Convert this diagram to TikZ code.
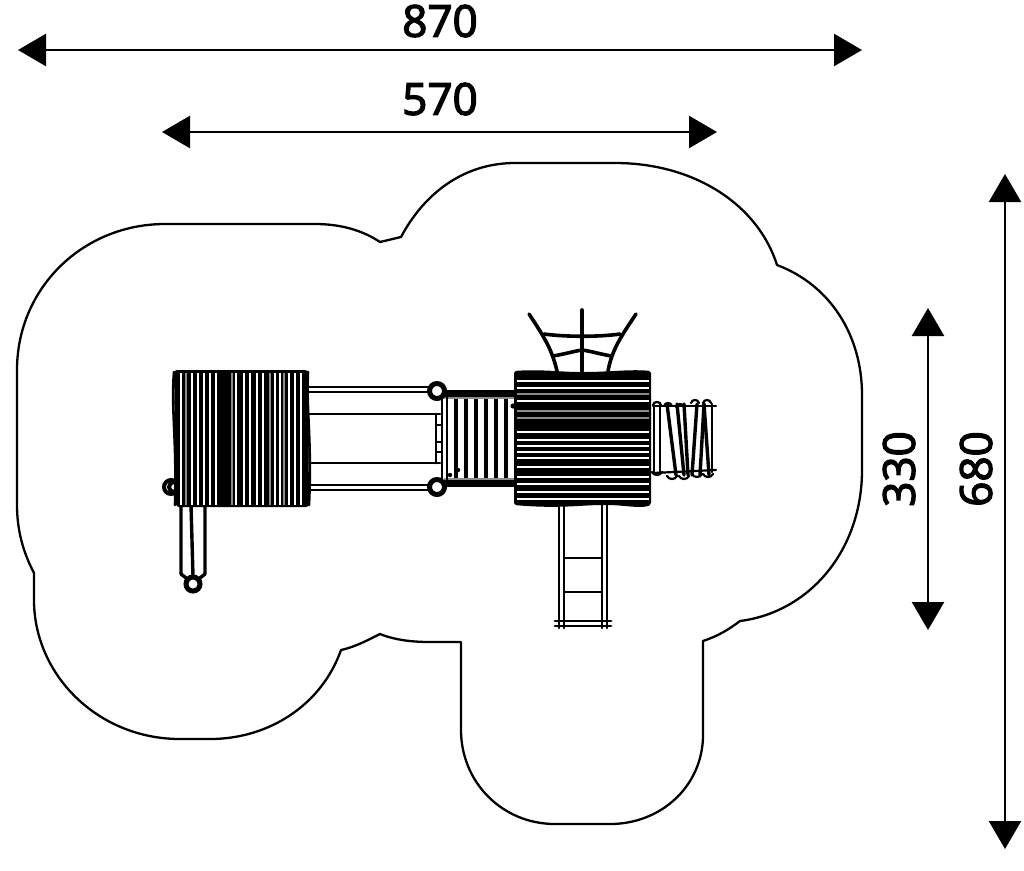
\documentclass[tikz,border=0pt]{standalone}
\usepackage{fontspec}
\setmainfont{Open Sans}
\newfontfamily\dimfont[FakeBold=3]{Open Sans}
\usetikzlibrary{arrows.meta}
\tikzset{
  dim/.style={line width=2.5pt,{Triangle[length=28pt,width=32pt]}-{Triangle[length=28pt,width=32pt]}},
  lab/.style={font=\dimfont\fontsize{44}{44}\selectfont,inner sep=0pt},
  edge/.style={line width=2.3pt,line join=round,line cap=round},
  heavy/.style={line width=3.4pt,line cap=round,line join=round},
  medium/.style={line width=2.8pt,line cap=round},
  gap/.style={white,line width=2.2pt},
  grey gap/.style={black!45,line width=1.4pt},
  ring/.style={circle,draw,fill=white,line width=5pt,minimum size=15pt,inner sep=0pt},
}
\begin{document}
\begin{tikzpicture}[x=1pt,y=-1pt]
\useasboundingbox (0,0) rectangle (1024,870);
% surface outline
\draw[edge] (401,237) .. controls (425,192) and (465,163) .. (515,163)
  -- (615,163) .. controls (695,163) and (758,205) .. (777,265)
  .. controls (830,285) and (862,335) .. (862,395)
  -- (862,470) .. controls (862,550) and (810,612) .. (740,621)
  .. controls (728,630) and (718,636) .. (703,641)
  -- (703,735) .. controls (703,785) and (662,824) .. (610,824)
  -- (555,824) .. controls (502,824) and (461,782) .. (461,730)
  -- (461,642) -- (430,642) .. controls (412,642) and (395,640) .. (380,634)
  .. controls (368,640) and (355,647) .. (341,650)
  .. controls (322,704) and (270,739) .. (210,739)
  -- (180,739) .. controls (98,739) and (34,675) .. (34,600)
  -- (34,573) .. controls (23,552) and (17,530) .. (17,505)
  -- (17,370) .. controls (17,288) and (83,224) .. (165,224)
  -- (315,224) .. controls (340,224) and (362,230) .. (380,242) -- cycle;
% dimensions
\coordinate (a1) at (18,50); \coordinate (a2) at (862,50);
\coordinate (b1) at (162,132); \coordinate (b2) at (717,132);
\coordinate (c1) at (1005,174); \coordinate (c2) at (1005,849);
\coordinate (d1) at (928,308); \coordinate (d2) at (928,630);
\draw[dim] (a1) -- (a2);
\draw[dim] (b1) -- (b2);
\draw[dim] (c1) -- (c2);
\draw[dim] (d1) -- (d2);
\node[lab] (l870) at (440,21) {870};
\node[lab] (l570) at (440,99) {570};
\node[lab,rotate=90] (l680) at (976,469) {680};
\node[lab,rotate=90] (l330) at (899,469) {330};
% left pole under the deck
\draw[heavy] (181,505) -- (181,574) (191,505) -- (193,576) (205,505) -- (205,574);
\draw[heavy] (181,574) -- (186,578) (205,574) -- (200,578);
\node[ring,minimum size=14pt] (p1) at (193,584) {};
\node[ring,minimum size=14pt,line width=4pt] (p2) at (171,487) {};
\draw[line width=4pt] (174,482) arc (90:270:5pt);
% bridge rails
\draw[medium] (309,387) -- (430,387) (309,392) -- (430,392);
\draw[medium] (309,485) -- (430,485) (309,490) -- (430,490);
\draw[medium] (309,414) -- (440,414) (309,463) -- (440,463);
\draw[medium] (436,414) -- (436,463) (442,414) -- (442,463);
\draw[medium,line width=1.8pt] (436,425) -- (442,425) (436,442) -- (442,442) (436,452) -- (442,452);
% left deck
\fill[rounded corners=3pt] (174,370) -- (308,370) -- (309,507) -- (176,507) -- cycle;
\foreach \x in {181,192,198,204,210,216,236,244,250,257,263,275,280,289,295,301}
  \draw[gap] (\x,373) -- (\x,505);
\foreach \x in {186,232,270,284}
  \draw[grey gap] (\x,373) -- (\x,505);
\draw[heavy,line width=2.6pt] (174,372) .. controls (171,410) and (177,440) .. (175,505);
\draw[heavy,line width=2.6pt] (308,372) .. controls (306,410) and (312,440) .. (309,505);
% middle platform
\fill (444,390) rectangle (514,397);
\fill (444,480) rectangle (514,487);
\fill[black!45] (444,397) rectangle (514,399);
\fill[black!45] (444,478) rectangle (514,480);
\draw[medium] (442,395) -- (442,484) (447,395) -- (447,484);
\foreach \x in {456,466,476,486,496,506}
  \draw[line width=3.2pt] (\x,399) -- (\x,478);
\fill (450,475) circle (2.2pt) (458,470) circle (2.2pt) (513,406) circle (2.6pt);
\node[ring] (r1) at (437,391) {};
\node[ring] (r2) at (437,487) {};
% right deck
\fill[rounded corners=2pt] (514,371) .. controls (540,369) and (560,372) .. (582,372)
  .. controls (610,372) and (630,369) .. (651,371)
  -- (651,505) .. controls (640,509) and (625,505) .. (605,505)
  .. controls (580,505) and (560,509) .. (514,505) -- cycle;
\foreach \y in {381,388,401,432,440,446,452,458,467,477,484,492,499}
  \draw[gap,line width=2pt] (517,\y) -- (649,\y);
\foreach \y in {394,411,418}
  \draw[grey gap] (517,\y) -- (649,\y);
% net above the deck
\begin{scope}[heavy,line width=3.6pt]
\draw (582,310) -- (582,371);
\draw (529,314) .. controls (545,338) and (552,350) .. (557,371);
\draw (636,314) .. controls (620,338) and (612,350) .. (608,371);
\draw (544,334) .. controls (565,337) and (600,337) .. (620,334);
\draw (553,356) .. controls (565,354) and (575,351) .. (582,350) .. controls (590,351) and (600,354) .. (611,356);
\end{scope}
% climbing net on the right
\begin{scope}[line width=2.2pt,line cap=round]
\draw (653,406) -- (716,406);
\draw (653,473) -- (716,470);
\draw (654,403) -- (654,474) (660,403) -- (660,474);
\draw (712,404) -- (712,472);
\foreach \a/\b in {667/676,677/684,684/688,697/692,704/700,704/709}
  \draw[line width=3.4pt] (\a,404) -- (\b,475);
\foreach \x/\y in {657/403,668/404,680/405,695/401,707/401}
  \draw (\x-4,\y+2) .. controls (\x-3,\y-2) and (\x+3,\y-2) .. (\x+4,\y+2);
\foreach \x/\y in {657/473,672/477,684/477,697/475,708/475}
  \draw (\x-5,\y-1) .. controls (\x-3,\y+3) and (\x+3,\y+3) .. (\x+5,\y-1);
\end{scope}
% ladder below the deck
\draw[medium] (559,505) -- (559,628) (564,505) -- (564,628);
\draw[medium] (602,505) -- (602,628) (607,505) -- (607,628);
\draw[medium,line width=2pt] (564,558) -- (602,558) (564,592) -- (602,592);
\draw[medium] (555,621) -- (611,621) (555,626) -- (611,626);
\end{tikzpicture}
\end{document}
